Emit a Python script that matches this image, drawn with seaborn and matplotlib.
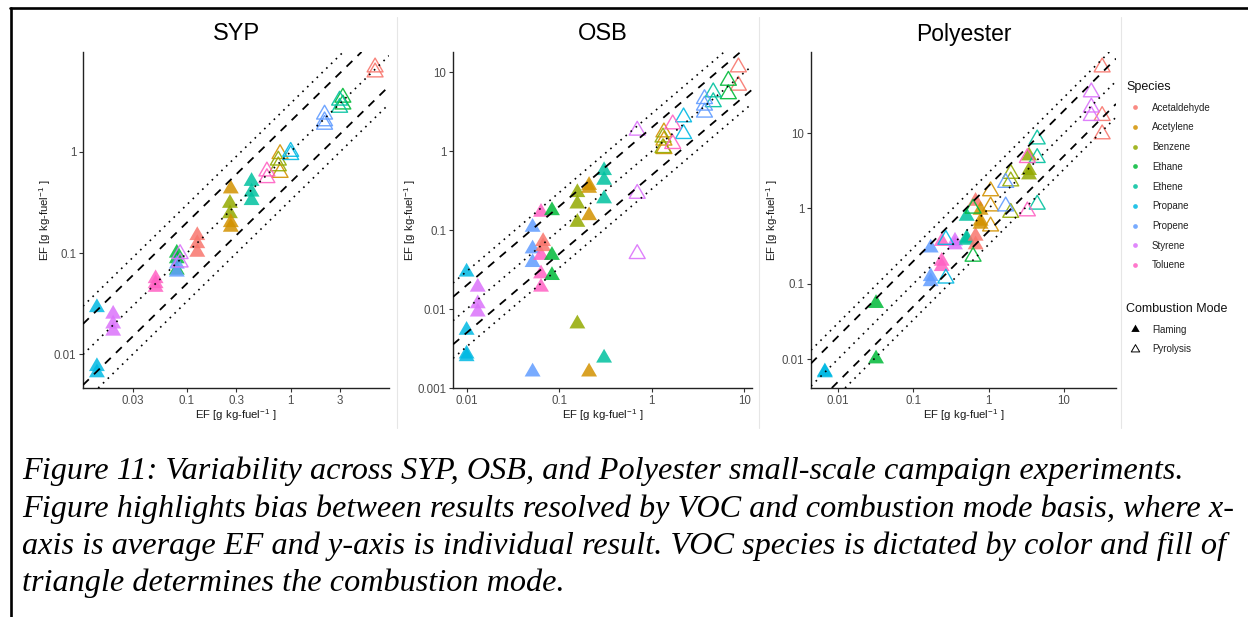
import numpy as np
import pandas as pd
import matplotlib
matplotlib.use("Agg")
import matplotlib.pyplot as plt
import seaborn as sns
from matplotlib.path import Path
from matplotlib.lines import Line2D
from matplotlib.ticker import NullLocator

# ---------------- data ----------------
species_order = ["Acetaldehyde", "Acetylene", "Benzene", "Ethane", "Ethene",
                 "Propane", "Propene", "Styrene", "Toluene"]
species_colors = ["#F8766D", "#D39200", "#93AA00", "#00BA38", "#00C19F",
                  "#00B9E3", "#619CFF", "#DB72FB", "#FF61C3"]
mode_order = ["Flaming", "Pyrolysis"]
panel_titles = ["SYP", "OSB", "Polyester"]

# SYP: one entry per (species, mode) group; avg = x, ef = individual results (y)
syp_species = ["Propane", "Styrene", "Toluene", "Ethane", "Propene", "Acetaldehyde",
               "Benzene", "Acetylene", "Ethene",
               "Styrene", "Toluene", "Benzene", "Acetylene", "Propane", "Propene",
               "Ethene", "Ethane", "Acetaldehyde"]
syp_mode = ["Flaming"] * 9 + ["Pyrolysis"] * 9
syp_avg = [0.0136, 0.0195, 0.050, 0.080, 0.080, 0.126, 0.26, 0.265, 0.42,
           0.086, 0.59, 0.76, 0.79, 1.0, 2.12, 2.96, 3.18, 6.5]
syp_ef = [[0.029, 0.0076, 0.0066], [0.025, 0.020, 0.017], [0.056, 0.050, 0.046],
          [0.100, 0.088, 0.068], [0.078, 0.065], [0.149, 0.124, 0.102],
          [0.31, 0.245], [0.43, 0.20, 0.18], [0.51, 0.40, 0.33],
          [0.098, 0.081], [0.64, 0.55], [0.82, 0.72], [0.95, 0.62], [1.0, 0.93],
          [2.33, 2.0, 1.85], [3.2, 2.72], [3.42, 2.93], [6.8, 6.07]]

# OSB
osb_species = ["Propane", "Styrene", "Propene", "Toluene", "Acetaldehyde", "Ethane",
               "Benzene", "Acetylene", "Ethene",
               "Styrene", "Benzene", "Acetylene", "Toluene", "Propane", "Propene",
               "Ethene", "Ethane", "Acetaldehyde"]
osb_mode = ["Flaming"] * 9 + ["Pyrolysis"] * 9
osb_avg = [0.0100, 0.0132, 0.0516, 0.0636, 0.067, 0.0835, 0.157, 0.21, 0.305,
           0.695, 1.32, 1.35, 1.68, 2.2, 3.7, 4.6, 6.7, 8.6]
osb_ef = [[0.0295, 0.0054, 0.0027, 0.0025], [0.019, 0.0117, 0.0092],
          [0.109, 0.058, 0.039, 0.0016], [0.169, 0.048, 0.028, 0.019], [0.072, 0.062],
          [0.177, 0.048, 0.0267], [0.30, 0.215, 0.126, 0.0065],
          [0.37, 0.34, 0.153, 0.0016], [0.57, 0.43, 0.25, 0.0024],
          [1.83, 0.29, 0.050], [1.5, 1.1], [1.74, 1.37, 1.07], [2.2, 1.24],
          [2.7, 1.66], [4.6, 3.8, 3.1], [5.6, 4.2], [7.85, 5.3], [11.6, 6.8]]

# Polyester
poly_species = ["Propane", "Ethane", "Propene", "Toluene", "Styrene", "Ethene",
                "Acetaldehyde", "Acetylene", "Benzene",
                "Propane", "Ethane", "Acetylene", "Propene", "Benzene", "Toluene",
                "Ethene", "Styrene", "Acetaldehyde"]
poly_mode = ["Flaming"] * 9 + ["Pyrolysis"] * 9
poly_avg = [0.0067, 0.032, 0.17, 0.238, 0.357, 0.51, 0.67, 0.78, 3.43,
            0.27, 0.62, 1.06, 1.68, 1.96, 3.26, 4.4, 23.0, 32.0]
poly_ef = [[0.0068, 0.0066], [0.055, 0.0101], [0.30, 0.125, 0.107],
           [0.366, 0.20, 0.17], [0.37, 0.33], [0.79, 0.405, 0.38],
           [1.25, 0.43, 0.33], [0.95, 0.68, 0.62], [5.0, 3.2, 2.8],
           [0.385, 0.118], [1.0, 0.23], [1.7, 1.07, 0.58], [2.2, 1.07],
           [2.9, 2.3, 0.88], [4.7, 0.92], [8.3, 4.7, 1.13], [35.0, 22.0, 17.0],
           [75.0, 17.0, 9.7]]

syp_xticks = [0.03, 0.1, 0.3, 1, 3]
syp_xlabels = ["0.03", "0.1", "0.3", "1", "3"]
syp_yticks = [0.01, 0.1, 1]
syp_ylabels = ["0.01", "0.1", "1"]
osb_xticks = [0.01, 0.1, 1, 10]
osb_xlabels = ["0.01", "0.1", "1", "10"]
osb_yticks = [0.001, 0.01, 0.1, 1, 10]
osb_ylabels = ["0.001", "0.01", "0.1", "1", "10"]
poly_xticks = [0.01, 0.1, 1, 10]
poly_xlabels = ["0.01", "0.1", "1", "10"]
poly_yticks = [0.01, 0.1, 1, 10]
poly_ylabels = ["0.01", "0.1", "1", "10"]

ref_ratios = [1 / 3, 1 / 2, 1, 2, 3]
ref_styles = ["dotted", "dashed", "dotted", "dashed", "dotted"]

caption_lines = [
    "Figure 11: Variability across SYP, OSB, and Polyester small-scale campaign experiments.",
    "Figure highlights bias between results resolved by VOC and combustion mode basis, where x-",
    "axis is average EF and y-axis is individual result. VOC species is dictated by color and fill of",
    "triangle determines the combustion mode.",
]

# ---------------- style ----------------
sns.set_theme(style="ticks")
plt.rcParams["font.family"] = ["Liberation Sans", "DejaVu Sans"]
plt.rcParams["mathtext.fontset"] = "custom"
plt.rcParams["mathtext.rm"] = "Liberation Sans"
plt.rcParams["mathtext.it"] = "Liberation Sans:italic"
plt.rcParams["mathtext.bf"] = "Liberation Sans:bold"

pal = dict(zip(species_order, species_colors))
tri = Path([(0, 0.577), (-0.5, -0.2887), (0.5, -0.2887), (0, 0.577)],
           [Path.MOVETO, Path.LINETO, Path.LINETO, Path.CLOSEPOLY])

W, H = 1248, 617
fig = plt.figure(figsize=(W / 100, H / 100), dpi=100)


def fx(px):
    return px / W


def fy(py):
    return 1 - py / H


def build(sp, md, avg, ef):
    rows = []
    for s, m, a, vals in zip(sp, md, avg, ef):
        for v in vals:
            rows.append({"species": s, "mode": m, "avg": a, "ef": v})
    return pd.DataFrame(rows)


panels = [
    (build(syp_species, syp_mode, syp_avg, syp_ef), syp_xticks, syp_xlabels, syp_yticks, syp_ylabels),
    (build(osb_species, osb_mode, osb_avg, osb_ef), osb_xticks, osb_xlabels, osb_yticks, osb_ylabels),
    (build(poly_species, poly_mode, poly_avg, poly_ef), poly_xticks, poly_xlabels, poly_yticks, poly_ylabels),
]

panel_px = [(83, 389), (453, 752), (811, 1116)]
ylab_px = [45, 410, 772]
title_fs = [17, 17, 16.5]
top_px, bot_px = 52, 388
axis_label = r"EF [g kg-fuel$^{-1}$ ]"

for i, (df, xt, xl, yt, yl) in enumerate(panels):
    l, r = panel_px[i]
    ax = fig.add_axes([fx(l), fy(bot_px), (r - l) / W, (bot_px - top_px) / H])
    ax.set_xscale("log")
    ax.set_yscale("log")

    fl = df[df["mode"] == "Flaming"]
    sns.scatterplot(data=fl, x="avg", y="ef", hue="species", hue_order=species_order,
                    palette=pal, marker=tri, s=175, alpha=0.85, linewidth=0,
                    legend=False, ax=ax, zorder=2)
    for sp in species_order:
        sub = df[(df["mode"] == "Pyrolysis") & (df["species"] == sp)]
        if len(sub):
            sns.scatterplot(data=sub, x="avg", y="ef", color=pal[sp], marker=tri, s=175,
                            facecolor="none", edgecolor=pal[sp], linewidth=1.0, alpha=0.9,
                            legend=False, ax=ax, zorder=2)

    lx0, lx1 = np.log10(df["avg"].min()), np.log10(df["avg"].max())
    ly0, ly1 = np.log10(df["ef"].min()), np.log10(df["ef"].max())
    px_, py_ = 0.05 * (lx1 - lx0), 0.05 * (ly1 - ly0)
    ax.set_xlim(10 ** (lx0 - px_), 10 ** (lx1 + px_))
    ax.set_ylim(10 ** (ly0 - py_), 10 ** (ly1 + py_))

    for k, st in zip(ref_ratios, ref_styles):
        if st == "dashed":
            kw = dict(linestyle=(0, (4.5, 4.0)), linewidth=1.3)
        else:
            kw = dict(linestyle=(0, (1.0, 3.0)), linewidth=1.2)
        ax.axline((1, k), (10, 10 * k), color="black", zorder=3, **kw)

    ax.set_xticks(xt)
    ax.set_xticklabels(xl)
    ax.set_yticks(yt)
    ax.set_yticklabels(yl)
    ax.xaxis.set_minor_locator(NullLocator())
    ax.yaxis.set_minor_locator(NullLocator())
    ax.tick_params(axis="both", which="major", length=2.75, width=0.8, color="#333333",
                   labelsize=8.3, labelcolor="#4D4D4D", pad=2.2)
    for s in ["top", "right"]:
        ax.spines[s].set_visible(False)
    for s in ["left", "bottom"]:
        ax.spines[s].set_color("#222222")
        ax.spines[s].set_linewidth(1.0)
    ax.grid(False)

    ax.set_xlabel(axis_label, fontsize=8.2, color="#1A1A1A")
    ax.set_ylabel(axis_label, fontsize=8.2, color="#1A1A1A")
    hpx = bot_px - top_px
    ax.xaxis.set_label_coords(0.5, -(415 - bot_px) / hpx)
    ax.xaxis.label.set_va("center")
    ax.yaxis.set_label_coords(-(l - ylab_px[i]) / (r - l), 0.5)
    ax.yaxis.label.set_va("center")

    ax.text(0.5, 1 + (top_px - 34) / hpx, panel_titles[i], transform=ax.transAxes,
            ha="center", va="center", fontsize=title_fs[i], color="black")

# ---------------- legends ----------------
sp_handles = [Line2D([0], [0], marker="o", linestyle="", markersize=3.4,
                     markerfacecolor=c, markeredgewidth=0, alpha=0.85) for c in species_colors]
leg1 = fig.legend(sp_handles, species_order, title="Species", loc="upper left",
                  bbox_to_anchor=(fx(1126), fy(81)), frameon=False, fontsize=7,
                  title_fontsize=9, labelspacing=1.0, handlelength=1.85,
                  handletextpad=0.8, borderpad=0, borderaxespad=0, alignment="left")
mode_handles = [Line2D([0], [0], marker=tri, linestyle="", markersize=7, color="black",
                       markerfacecolor="black", markeredgewidth=0),
                Line2D([0], [0], marker=tri, linestyle="", markersize=7, color="black",
                       markerfacecolor="none", markeredgewidth=0.7)]
leg2 = fig.legend(mode_handles, mode_order, title="Combustion Mode", loc="upper left",
                  bbox_to_anchor=(fx(1126), fy(303)), frameon=False, fontsize=7,
                  title_fontsize=9, labelspacing=1.0, handlelength=1.85,
                  handletextpad=0.8, borderpad=0, borderaxespad=0, alignment="left")
for lg in (leg1, leg2):
    for t in lg.get_texts():
        t.set_color("#222222")
    lg.get_title().set_color("#111111")

# ---------------- frame / separators ----------------
for xp in [397, 759, 1121]:
    fig.add_artist(Line2D([fx(xp), fx(xp)], [fy(17), fy(428)], color="#E6E6E6", linewidth=0.8))
fig.add_artist(Line2D([fx(10), 1.0], [fy(8), fy(8)], color="black", linewidth=1.9))
fig.add_artist(Line2D([fx(10.5), fx(10.5)], [fy(8), 0.0], color="black", linewidth=1.9))

# ---------------- caption ----------------
cap_base = [479, 517, 554, 591]
for txt, yb in zip(caption_lines, cap_base):
    fig.text(fx(22), fy(yb), txt, ha="left", va="baseline", fontsize=23.2,
             family=["Liberation Serif", "DejaVu Serif"], style="italic", color="black")

fig.savefig("out.png", dpi=100)
